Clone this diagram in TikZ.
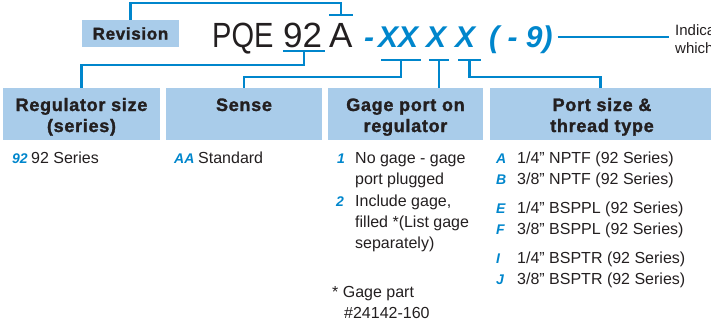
\documentclass[tikz,border=0pt]{standalone}
\usepackage{fontspec}
\setmainfont{Liberation Sans}
\newfontfamily\heavy[FakeBold=1.5,LetterSpace=4]{Liberation Sans}
\definecolor{lblue}{RGB}{169,204,234}
\definecolor{dblue}{RGB}{0,134,204}
\definecolor{ink}{RGB}{35,31,32}
\begin{document}
\begin{tikzpicture}[x=1pt,y=-1pt,
 conn/.style={draw=dblue,line width=2.2pt},
 hbox/.style={fill=lblue,minimum height=52pt,inner sep=0pt,outer sep=0pt},
 htext/.style={font=\fontsize{18}{21}\heavy\bfseries,text=ink,inner sep=0pt,anchor=base},
 body/.style={font=\fontsize{16}{20}\selectfont,text=ink,inner sep=0pt,anchor=base west},
 code/.style={font=\fontsize{14}{20}\selectfont\bfseries\itshape,text=dblue,inner sep=0pt,anchor=base west},
 big/.style={font=\fontsize{35}{40}\selectfont,text=ink,inner sep=0pt,anchor=base west},
 bigcode/.style={font=\fontsize{30}{36}\selectfont\bfseries\itshape,text=dblue,inner sep=0pt,anchor=base west},
]
\useasboundingbox (0,0) rectangle (711,324);

% title row
\node[fill=lblue,minimum width=97pt,minimum height=27pt,inner sep=0pt,
      font=\fontsize{17}{20}\heavy\bfseries,text=ink] (rev) at (130.5,33.5) {Revision};
\node[big] (pqe) at (212,47) {\scalebox{0.83}[1]{PQE}};
\node[big] (n92) at (283,47) {92};
\node[big] (nA) at (329,47) {A};
\node[bigcode] (dash) at (364,47) {-};
\node[bigcode] (xx) at (378,47) {XX};
\node[bigcode] (x1) at (426,47) {X};
\node[bigcode] (x2) at (455,47) {X};
\node[bigcode] (par) at (489,47) {( - 9)};
\begin{scope}
\clip (0,0) rectangle (711,324);
\node[font=\fontsize{15}{18}\selectfont,text=ink,inner sep=0pt,anchor=north west,align=left] (ind) at (675,24) {Indicates\\which};
\end{scope}

% code marks
\coordinate (tA) at (341,15);
\coordinate (u92) at (304,51);
\coordinate (uXX) at (401,60);
\coordinate (uX1) at (439,60);
\coordinate (uX2) at (469.5,60);
\draw[conn] ([xshift=-12pt]tA) -- ([xshift=12pt]tA);
\draw[conn] ([xshift=-21pt]u92) -- ([xshift=21pt]u92);
\draw[conn] ([xshift=-20pt]uXX) -- ([xshift=20pt]uXX);
\draw[conn] ([xshift=-10pt]uX1) -- ([xshift=10pt]uX1);
\draw[conn] ([xshift=-11.5pt]uX2) -- ([xshift=11.5pt]uX2);

% header boxes
\node[hbox,minimum width=157pt] (h1) at (81.5,114) {};
\node[hbox,minimum width=156pt] (h2) at (244,114) {};
\node[hbox,minimum width=155pt] (h3) at (405.5,114) {};
\node[hbox,minimum width=221pt] (h4) at (600.5,114) {};
\node[htext] (t1a) at (81.5,111) {Regulator size};
\node[htext] (t1b) at (81.5,132) {(series)};
\node[htext] (t2a) at (244,111) {Sense};
\node[htext] (t3a) at (405.5,111) {Gage port on};
\node[htext] (t3b) at (405.5,132) {regulator};
\node[htext] (t4a) at (602,111) {Port size \&};
\node[htext] (t4b) at (602,132) {thread type};

% connectors
\draw[conn] (rev.north) -- ++(0,-17) -| (tA);
\draw[conn] (u92) -- ++(0,14) -| (h1.north);
\draw[conn] (uXX) -- ++(0,17) -| (h2.north);
\draw[conn] (uX1) -- (uX1 |- h3.north);
\draw[conn] (uX2) -- ++(0,17) -| (h4.north);
\draw[conn,shorten <=5pt,shorten >=6pt] (par.east |- 0,37) -- (ind.west |- 0,37);

% column 1
\node[code] (c92) at (12,163) {92};
\node[body] (b92) at (31,163) {92 Series};
% column 2
\node[code] (cAA) at (174,163) {AA};
\node[body] (bAA) at (198,163) {Standard};
% column 3
\node[code] (c1) at (337,163) {1};
\node[body] (b1a) at (355,163) {No gage - gage};
\node[body] (b1b) at (355,184) {port plugged};
\node[code] (c2) at (336,206) {2};
\node[body] (b2a) at (355,206) {Include gage,};
\node[body] (b2b) at (355,227) {filled *(List gage};
\node[body] (b2c) at (355,248) {separately)};
\node[body] (f1) at (332,297) {* Gage part};
\node[body] (f2) at (344,318) {\#24142-160};
% column 4
\node[code] (cA) at (496,163) {A};
\node[body] (bA) at (517,163) {1/4” NPTF (92 Series)};
\node[code] (cB) at (496,184) {B};
\node[body] (bB) at (517,184) {3/8” NPTF (92 Series)};
\node[code] (cE) at (496,213) {E};
\node[body] (bE) at (517,213) {1/4” BSPPL (92 Series)};
\node[code] (cF) at (496,234) {F};
\node[body] (bF) at (517,234) {3/8” BSPPL (92 Series)};
\node[code] (cI) at (496,263) {I};
\node[body] (bI) at (517,263) {1/4” BSPTR (92 Series)};
\node[code] (cJ) at (496,284) {J};
\node[body] (bJ) at (517,284) {3/8” BSPTR (92 Series)};
\end{tikzpicture}
\end{document}
